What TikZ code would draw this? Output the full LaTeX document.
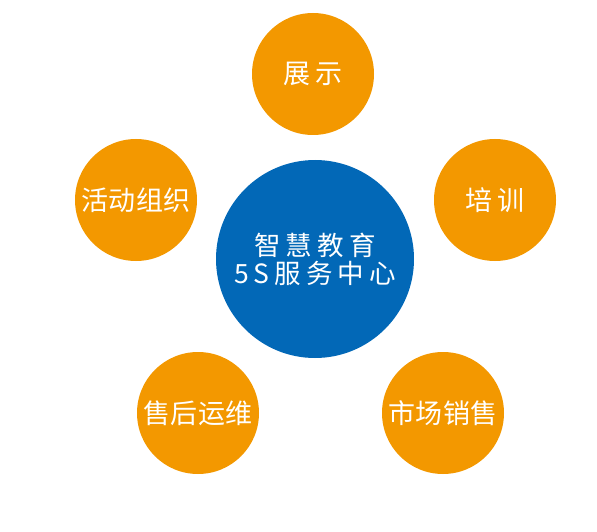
\documentclass[tikz,border=0pt]{standalone}
\usepackage{fontspec}
\setmainfont{Noto Sans CJK SC}
\definecolor{orangec}{RGB}{243,152,0}
\definecolor{bluec}{RGB}{2,104,183}
\tikzset{
  sat/.style={circle, fill=orangec, draw=none, minimum size=122pt, inner sep=0pt,
    text=white, font=\fontsize{27pt}{30pt}\selectfont},
  hub/.style={circle, fill=bluec, draw=none, minimum size=198pt, inner sep=0pt,
    text=white, align=center, font=\fontsize{26.5pt}{29pt}\selectfont}
}
\newcommand{\gp}{\hspace{5pt}}
\newcommand{\gq}{\hspace{0.5pt}}
\begin{document}
\begin{tikzpicture}[x=1pt,y=1pt]
\useasboundingbox (0,0) rectangle (597,-532);
\node[hub] (hub) at (315,-259) {智\gp 慧\gp 教\gp 育\\[-1pt]5\gp S\gp 服\gp 务\gp 中\gp 心};
\node[sat] (zs) at (313,-74) {展\gp 示};
\node[sat] (hd) at (136,-200) {活\gq 动\gq 组\gq 织};
\node[sat] (px) at (495,-200) {培\gp 训};
\node[sat] (sh) at (198,-413) {售\gq 后\gq 运\gq 维};
\node[sat] (sc) at (443,-413) {市\gq 场\gq 销\gq 售};
\end{tikzpicture}
\end{document}
